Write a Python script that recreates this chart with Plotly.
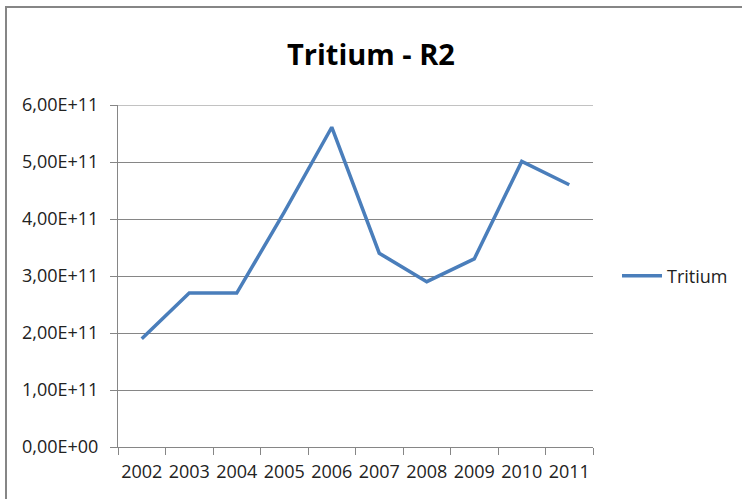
import plotly.graph_objects as go

years = ["2002", "2003", "2004", "2005", "2006", "2007", "2008", "2009", "2010", "2011"]
tritium = [1.9e11, 2.7e11, 2.7e11, 4.12e11, 5.61e11, 3.4e11, 2.9e11, 3.3e11, 5.01e11, 4.6e11]
y_tick_vals = [0, 1e11, 2e11, 3e11, 4e11, 5e11, 6e11]
y_tick_text = ["0,00E+00", "1,00E+11", "2,00E+11", "3,00E+11", "4,00E+11", "5,00E+11", "6,00E+11"]

W, H = 742, 499
L, R, T, B = 118, 593, 105, 447

fig = go.Figure()
fig.add_trace(go.Scatter(
    x=years, y=tritium, mode="lines", name="Tritium",
    line=dict(color="#4a7ebb", width=3.5),
))

font_fam = "Open Sans, sans-serif"
fig.update_layout(
    width=W, height=H,
    margin=dict(l=L, r=W - R, t=T, b=H - B, pad=0, autoexpand=False),
    paper_bgcolor="white", plot_bgcolor="white",
    title=dict(text="<b>Tritium - R2</b>", x=0.5, xref="container", xanchor="center",
               y=1 - 55 / H, yref="container", yanchor="middle",
               font=dict(family=font_fam, size=29, color="#000000")),
    showlegend=True,
    legend=dict(x=(617 - L) / (R - L), xanchor="left", y=0.5, yanchor="middle",
                font=dict(family=font_fam, size=18, color="#222222"),
                bgcolor="rgba(0,0,0,0)", itemwidth=40),
    font=dict(family=font_fam, color="#222222"),
)

fig.update_xaxes(
    type="category", range=[-0.5, 9.5], tickson="boundaries", tickangle=0,
    ticks="outside", ticklen=7, tickcolor="#868686", tickwidth=1,
    showline=True, linecolor="#868686", linewidth=1,
    showgrid=False, zeroline=False, ticklabelstandoff=8,
    tickfont=dict(family=font_fam, size=18, color="#222222"),
)
fig.update_yaxes(
    range=[0, 6e11], tickmode="array", tickvals=y_tick_vals, ticktext=y_tick_text,
    ticks="outside", ticklen=7, tickcolor="#868686", tickwidth=1,
    showline=True, linecolor="#868686", linewidth=1,
    showgrid=True, gridcolor="#868686", gridwidth=1, zeroline=False,
    ticklabelstandoff=8,
    tickfont=dict(family=font_fam, size=18, color="#222222"),
)

# top gridline (plotly omits the one at the range edge)
fig.add_shape(type="line", xref="paper", yref="y", x0=0, x1=1,
              y0=y_tick_vals[-1], y1=y_tick_vals[-1],
              line=dict(color="#868686", width=1), layer="below")

# chart border
fig.add_shape(type="rect", xref="paper", yref="paper",
              x0=(6 - L) / (R - L), x1=2.0,
              y0=-1.0, y1=1 + (T - 7) / (B - T),
              line=dict(color="#868686", width=2), fillcolor="rgba(0,0,0,0)", layer="below")

fig.write_html("out.html", config={"displayModeBar": False},
               post_script="document.body.style.margin='0';")
